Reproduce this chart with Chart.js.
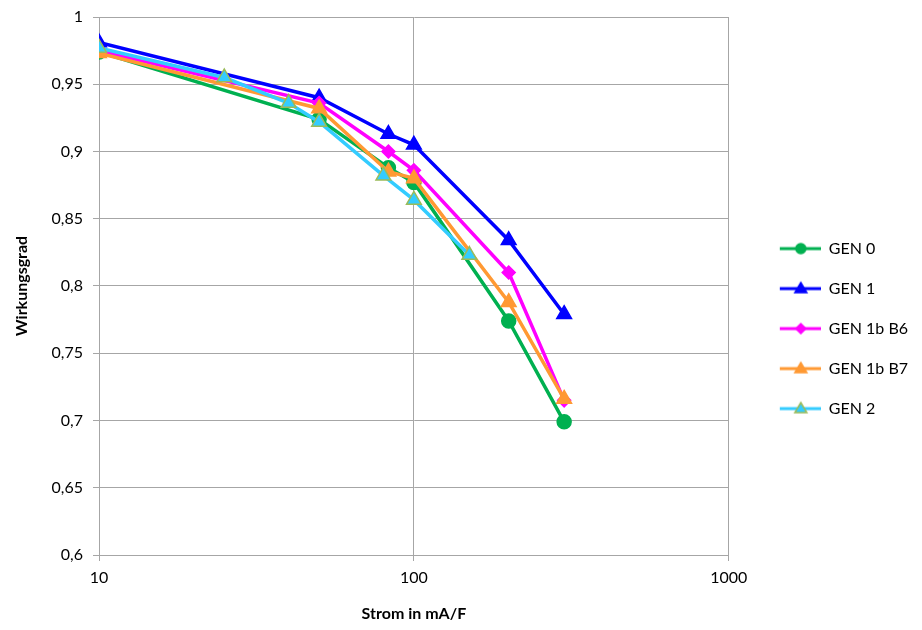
<!DOCTYPE html>
<html>
<head>
<meta charset="utf-8">
<script src="https://cdn.jsdelivr.net/npm/chart.js@4"></script>
<style>
  body { margin: 0; background: #fff; }
  #wrap { width: 922px; height: 630px; }
</style>
</head>
<body>
<div id="wrap"><canvas id="myChart"></canvas></div>
<script>
// x values (Strom in mA/F)
const xMain = [10, 50, 83, 100, 200, 300];
const xGen2 = [10, 25, 40, 50, 80, 100, 150];

// Wirkungsgrad per series
const gen0   = [0.974, 0.924, 0.888, 0.877, 0.774, 0.699];
const gen1   = [0.981, 0.940, 0.913, 0.905, 0.834, 0.779];
const gen1b6 = [0.975, 0.936, 0.900, 0.886, 0.810, 0.715];
const gen1b7 = [0.973, 0.932, 0.885, 0.880, 0.788, 0.716];
const gen2   = [0.977, 0.955, 0.936, 0.922, 0.882, 0.864, 0.823];

const xTicks = [10, 100, 1000];
const yMin = 0.6, yMax = 1, yStep = 0.05;

const FONT = "Lato, 'Open Sans', sans-serif";

function toPoints(xs, ys) {
    return xs.map((x, i) => ({ x: x, y: ys[i] }));
}

// legend icon: short line with marker in the middle (Excel style)
function legendIcon(ds) {
    const c = document.createElement("canvas");
    c.width = 68; c.height = 18;
    const g = c.getContext("2d");
    g.strokeStyle = ds.borderColor;
    g.lineWidth = 3;
    g.beginPath();
    g.moveTo(27, 9); g.lineTo(68, 9);
    g.stroke();
    const cx = 48, cy = 9;
    g.fillStyle = ds.pointBackgroundColor;
    g.strokeStyle = ds.pointBorderColor;
    g.lineWidth = 1.5;
    g.beginPath();
    if (ds.pointStyle === "circle") {
        g.arc(cx, cy, 5, 0, Math.PI * 2);
    } else if (ds.pointStyle === "rectRot") {
        g.moveTo(cx, cy - 5); g.lineTo(cx + 5, cy); g.lineTo(cx, cy + 5); g.lineTo(cx - 5, cy);
        g.closePath();
    } else {
        g.moveTo(cx, cy - 6); g.lineTo(cx + 6, cy + 4); g.lineTo(cx - 6, cy + 4);
        g.closePath();
    }
    g.fill();
    g.stroke();
    return c;
}

function series(label, xs, ys, color, style, radius, border, order) {
    return {
        label: label,
        data: toPoints(xs, ys),
        borderColor: color,
        backgroundColor: color,
        borderWidth: 3.5,
        pointStyle: style,
        pointRadius: radius,
        pointHoverRadius: radius,
        pointBackgroundColor: color,
        pointBorderColor: border,
        pointBorderWidth: 1.5,
        tension: 0,
        order: order
    };
}

const datasets = [
    series("GEN 0", xMain, gen0, "#00B050", "circle", 7, "#00B050", 5),
    series("GEN 1", xMain, gen1, "#0000FF", "triangle", 8.5, "#0000FF", 4),
    series("GEN 1b B6", xMain, gen1b6, "#FF00FF", "rectRot", 6.5, "#FF00FF", 3),
    series("GEN 1b B7", xMain, gen1b7, "#FF9933", "triangle", 8.5, "#FF9933", 2),
    series("GEN 2", xGen2, gen2, "#33CCFF", "triangle", 8.5, "#9BBB59", 1)
];

let ctx = document.getElementById("myChart").getContext("2d");
let myChart = new Chart(ctx, {
    type: "line",
    data: { datasets: datasets },
    options: {
        responsive: true,
        maintainAspectRatio: false,
        animation: false,
        layout: { padding: { top: 17, right: 4, left: 0, bottom: 0 } },
        plugins: {
            tooltip: { enabled: false },
            legend: {
                position: "right",
                // empty title only nudges the entries down a little
                title: { display: true, text: " ", font: { size: 1 }, padding: { top: 0, bottom: 9 } },
                labels: {
                    usePointStyle: true,
                    pointStyleWidth: 68,
                    padding: 24,
                    color: "#000",
                    font: { family: FONT, size: 16 },
                    generateLabels: function (chart) {
                        return chart.data.datasets.map((ds, i) => ({
                            text: ds.label,
                            pointStyle: legendIcon(ds),
                            fillStyle: ds.borderColor,
                            strokeStyle: ds.borderColor,
                            lineWidth: 0,
                            fontColor: "#000",
                            datasetIndex: i
                        }));
                    }
                }
            }
        },
        scales: {
            x: {
                type: "logarithmic",
                min: 10,
                max: 1000,
                afterBuildTicks: function (scale) {
                    scale.ticks = xTicks.map(v => ({ value: v }));
                },
                afterFit: function (scale) { scale.height = 75; },
                ticks: {
                    color: "#000",
                    font: { family: FONT, size: 16 },
                    padding: 7,
                    autoSkip: false,
                    maxRotation: 0,
                    callback: function (v) { return String(v); }
                },
                grid: { color: "#A6A6A6", lineWidth: 1, tickLength: 6, drawOnChartArea: true },
                border: { color: "#A6A6A6", width: 1 },
                title: {
                    display: true,
                    text: "Strom in mA/F",
                    color: "#000",
                    font: { family: FONT, size: 16, weight: "bold" },
                    padding: { top: 0, bottom: 7 }
                }
            },
            y: {
                min: yMin,
                max: yMax,
                afterFit: function (scale) {
                    scale.width = 99;
                    scale.paddingTop = 8;
                },
                ticks: {
                    stepSize: yStep,
                    color: "#000",
                    font: { family: FONT, size: 16 },
                    padding: 10,
                    callback: function (v) {
                        return Number(v.toFixed(2)).toString().replace(".", ",");
                    }
                },
                grid: { color: "#A6A6A6", lineWidth: 1, tickLength: 6 },
                border: { color: "#A6A6A6", width: 1 },
                title: {
                    display: true,
                    text: "Wirkungsgrad",
                    color: "#000",
                    font: { family: FONT, size: 16, weight: "bold" },
                    padding: { top: 12, bottom: 0 }
                }
            }
        }
    }
});
</script>
</body>
</html>
